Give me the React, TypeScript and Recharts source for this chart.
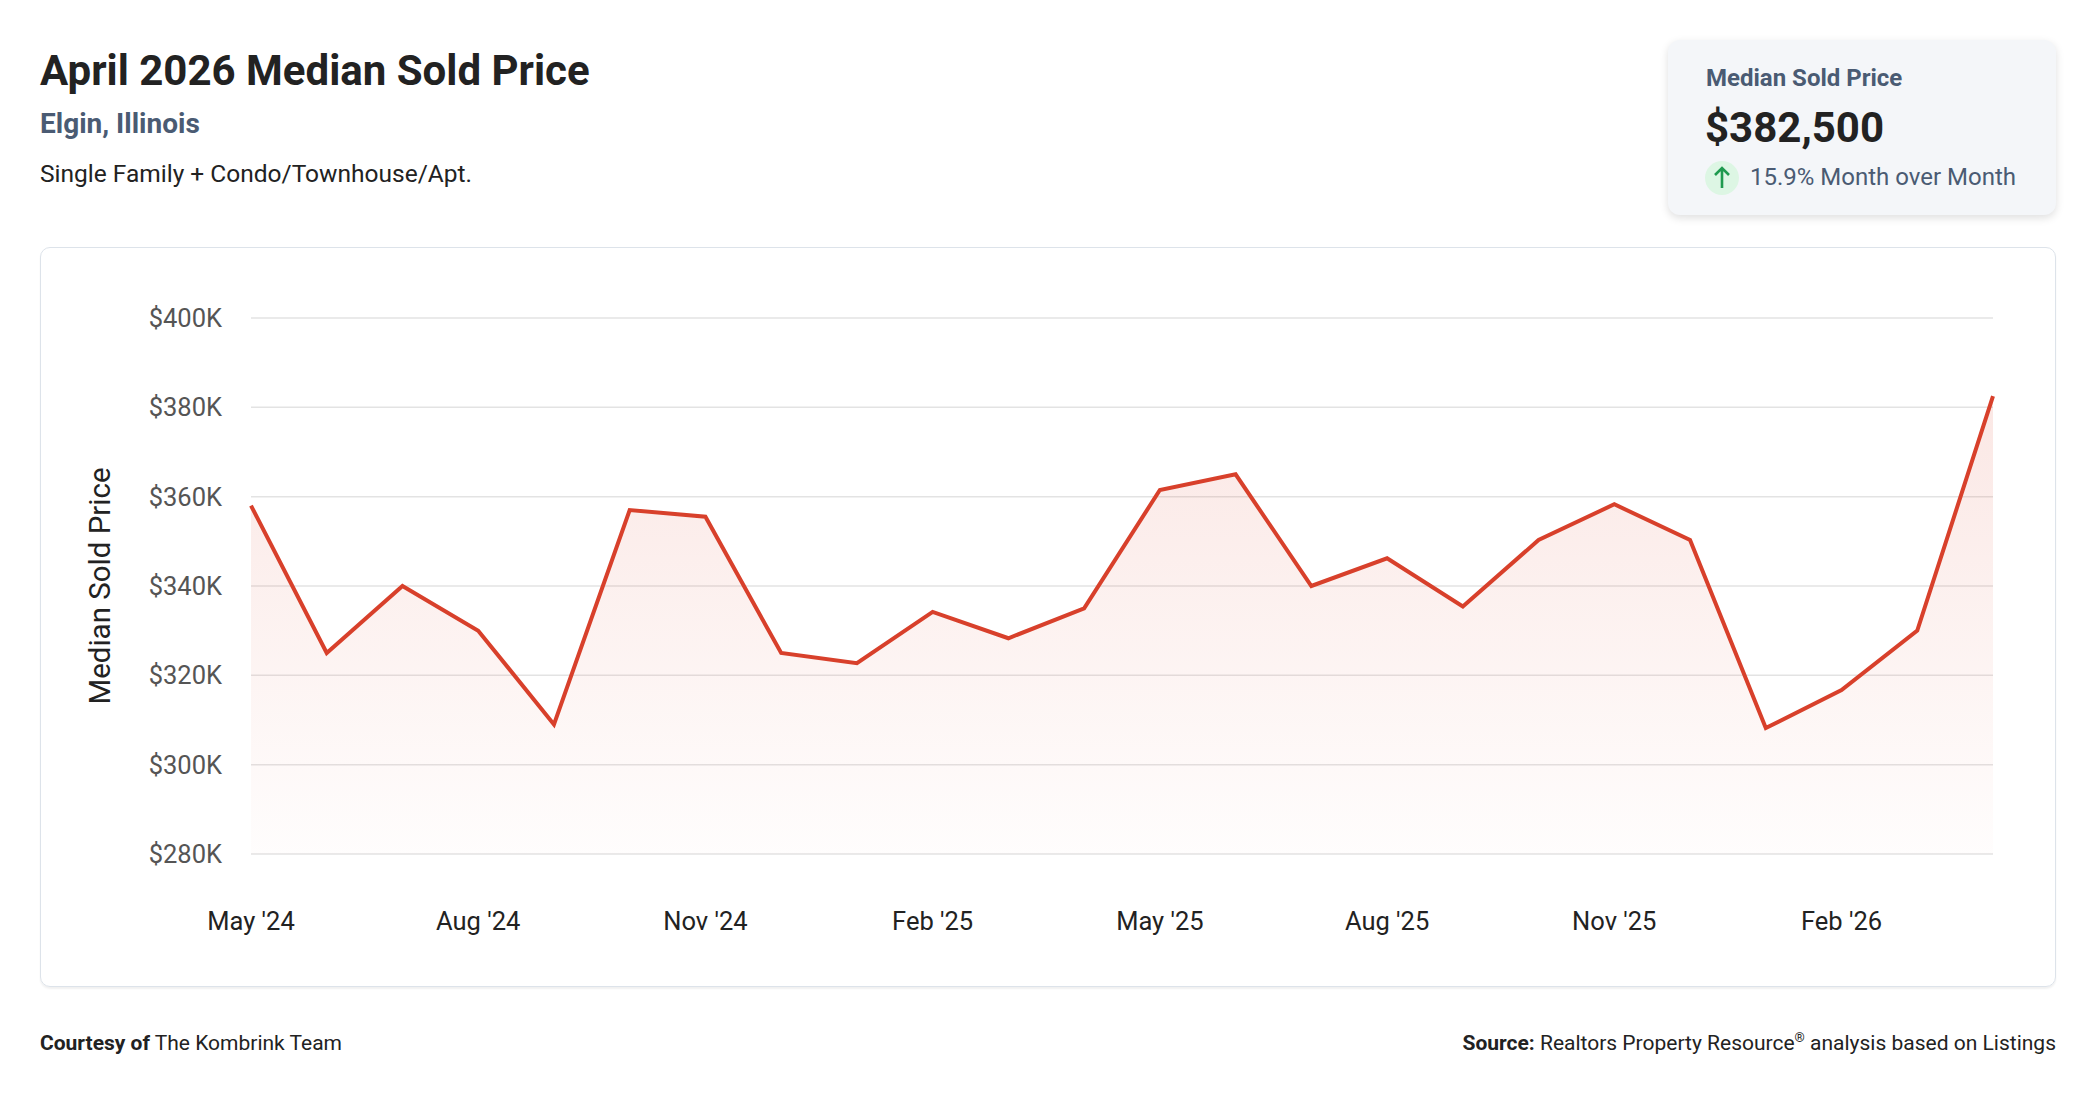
import { AreaChart, Area, XAxis, YAxis, CartesianGrid, Label } from "recharts";

// Monthly median sold price, Elgin IL
const MONTHS = [
    "May '24", "Jun '24", "Jul '24", "Aug '24", "Sep '24", "Oct '24",
    "Nov '24", "Dec '24", "Jan '25", "Feb '25", "Mar '25", "Apr '25",
    "May '25", "Jun '25", "Jul '25", "Aug '25", "Sep '25", "Oct '25",
    "Nov '25", "Dec '25", "Jan '26", "Feb '26", "Mar '26", "Apr '26",
];

const MEDIAN_PRICES = [
    358000, 325000, 340000, 330000, 309000, 357000,
    355500, 325000, 322700, 334200, 328300, 335000,
    361500, 365000, 340000, 346200, 335400, 350300,
    358300, 350300, 308200, 316700, 330000, 382500,
];

const PRICE_TICKS = [280000, 300000, 320000, 340000, 360000, 380000, 400000];

const chartData = MONTHS.map((month, i) => ({ month, price: MEDIAN_PRICES[i] }));

const SLATE = "#4a5b73";
const DARK = "#222222";
const LINE_RED = "#d8402b";
const FONT = "Roboto, 'Noto Sans', sans-serif";

// Format as $380K
function formatPrice(value: number) {
    return `$${Math.round(value / 1000)}K`;
}

function YAxisTitle({ viewBox }: { viewBox?: { x: number; y: number; width: number; height: number } }) {
    if (!viewBox) return null;
    const cx = viewBox.x + 20;
    const cy = viewBox.y + viewBox.height / 2;
    return (
        <text
            x={cx}
            y={cy}
            transform={`rotate(-90, ${cx}, ${cy})`}
            textAnchor="middle"
            dominantBaseline="central"
            fill="#222222"
            fontSize={29.5}
            fontFamily={FONT}
        >
            Median Sold Price
        </text>
    );
}

function textAt(top: number, size: number) {
    return { position: "absolute" as const, top: top - size / 2, fontSize: size, lineHeight: `${size}px`, whiteSpace: "nowrap" as const };
}

export default function App() {
    return (
        <div
            style={{
                position: "absolute",
                left: 0,
                top: 0,
                width: 2096,
                height: 1100,
                background: "#ffffff",
                fontFamily: FONT,
                color: DARK,
            }}
        >
            {/* Header */}
            <div style={{ ...textAt(71, 42), left: 40, fontWeight: 700, color: DARK }}>
                April 2026 Median Sold Price
            </div>
            <div style={{ ...textAt(124, 28), left: 40, fontWeight: 700, color: SLATE }}>
                Elgin, Illinois
            </div>
            <div style={{ ...textAt(174, 24.5), left: 40, color: DARK }}>
                Single Family + Condo/Townhouse/Apt.
            </div>

            {/* Summary card */}
            <div
                style={{
                    position: "absolute",
                    left: 1668,
                    top: 40,
                    width: 388,
                    height: 175,
                    background: "#f4f6f9",
                    borderRadius: 12,
                    boxShadow: "0 3px 8px rgba(0,0,0,0.13)",
                }}
            >
                <div style={{ ...textAt(38, 24), left: 38, fontWeight: 700, color: SLATE }}>
                    Median Sold Price
                </div>
                <div style={{ ...textAt(88, 42), left: 37, fontWeight: 700, color: DARK }}>
                    $382,500
                </div>
                <div
                    style={{
                        position: "absolute",
                        left: 37,
                        top: 121,
                        width: 34,
                        height: 34,
                        borderRadius: 17,
                        background: "#ddf6e4",
                    }}
                >
                    <svg width={34} height={34} viewBox="0 0 34 34">
                        <path d="M17 27 L17 7 M10 14 L17 7 L24 14" stroke="#1f9a4f" strokeWidth={2.6} fill="none" />
                    </svg>
                </div>
                <div style={{ ...textAt(137, 24), left: 82, color: SLATE }}>
                    15.9% Month over Month
                </div>
            </div>

            {/* Chart card */}
            <div
                style={{
                    position: "absolute",
                    left: 40,
                    top: 247,
                    width: 2016,
                    height: 740,
                    boxSizing: "border-box",
                    border: "1.5px solid #dde3ea",
                    borderRadius: 10,
                    boxShadow: "0 2px 2px rgba(0,0,0,0.06)",
                }}
            />
            <div style={{ position: "absolute", left: 40, top: 247 }}>
                <AreaChart
                    width={2016}
                    height={740}
                    data={chartData}
                    margin={{ top: 71, right: 63, left: 40, bottom: 73 }}
                >
                    <defs>
                        <linearGradient id="priceFill" x1="0" y1="0" x2="0" y2="1">
                            <stop offset="0%" stopColor="#e0533d" stopOpacity={0.23} />
                            <stop offset="100%" stopColor="#e0533d" stopOpacity={0.02} />
                        </linearGradient>
                    </defs>
                    <CartesianGrid vertical={false} stroke="#e3e3e3" strokeWidth={1.5} />
                    <XAxis
                        dataKey="month"
                        interval={2}
                        axisLine={false}
                        tickLine={false}
                        height={60}
                        tickMargin={52}
                        tick={{ fill: "#222222", fontSize: 25.5, fontFamily: FONT }}
                    />
                    <YAxis
                        type="number"
                        domain={[280000, 400000]}
                        ticks={PRICE_TICKS}
                        tickFormatter={formatPrice}
                        axisLine={false}
                        tickLine={false}
                        width={171}
                        tickMargin={23}
                        tick={{ fill: "#555555", fontSize: 25.5, fontFamily: FONT }}
                    >
                        <Label content={<YAxisTitle />} />
                    </YAxis>
                    <Area
                        type="linear"
                        dataKey="price"
                        stroke={LINE_RED}
                        strokeWidth={4}
                        fill="url(#priceFill)"
                        dot={false}
                        activeDot={false}
                        isAnimationActive={false}
                    />
                </AreaChart>
            </div>

            {/* Footer */}
            <div style={{ ...textAt(1043, 21), left: 40, color: DARK }}>
                <b>Courtesy of</b> The Kombrink Team
            </div>
            <div style={{ ...textAt(1043, 21), right: 40, color: DARK }}>
                <b>Source:</b> Realtors Property Resource
                <sup style={{ fontSize: 13, lineHeight: 0 }}>®</sup> analysis based on Listings
            </div>
        </div>
    );
}
